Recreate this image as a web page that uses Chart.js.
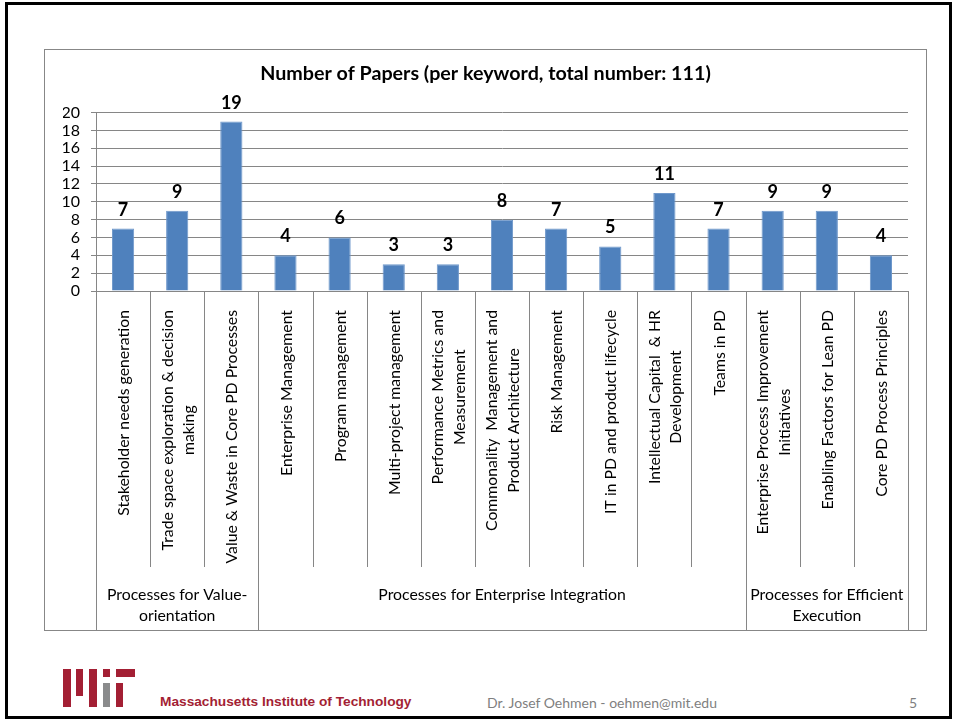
<!DOCTYPE html>
<html>
<head>
<meta charset="utf-8">
<script src="https://cdn.jsdelivr.net/npm/chart.js@4.4.1/dist/chart.umd.min.js"></script>
<style>
  html, body { margin: 0; padding: 0; background: #fff; }
  body { width: 954px; height: 721px; position: relative; overflow: hidden; font-family: Lato, sans-serif; }
  #frame { position: absolute; left: 5px; top: 2px; width: 947px; height: 717px; box-sizing: border-box; border: 3px solid #000; }
  #chartBox { position: absolute; left: 44px; top: 49px; width: 883px; height: 582px; box-sizing: border-box; border: 1px solid #878787; }
  #chartWrap { position: absolute; left: 0; top: 0; width: 881px; height: 580px; }
  .logo { position: absolute; background: #A31F34; }
  .logo.gray { background: #8A8B8C; }
  #mitName { position: absolute; left: 160px; top: 694px; font: bold 13.7px "Liberation Sans Narrow", "Arial Narrow", "Liberation Sans", sans-serif; color: #A31F34; white-space: nowrap; }
  #author { position: absolute; left: 487px; top: 694px; font: 14px Lato, sans-serif; color: #7f7f7f; white-space: nowrap; }
  #pageNo { position: absolute; left: 909px; top: 694px; font: 14px Lato, sans-serif; color: #7f7f7f; }
</style>
</head>
<body>
<div id="frame"></div>
<div id="chartBox"><div id="chartWrap"><canvas id="papersChart"></canvas></div></div>

<!-- MIT logo -->
<div class="logo" style="left:63px;top:669px;width:8px;height:38px"></div>
<div class="logo" style="left:76px;top:669px;width:7px;height:27px"></div>
<div class="logo" style="left:89px;top:669px;width:8px;height:38px"></div>
<div class="logo" style="left:103px;top:669px;width:7px;height:8px"></div>
<div class="logo gray" style="left:103px;top:683px;width:7px;height:24px"></div>
<div class="logo" style="left:116px;top:669px;width:19px;height:8px"></div>
<div class="logo" style="left:116px;top:683px;width:7px;height:24px"></div>
<div id="mitName">Massachusetts Institute of Technology</div>
<div id="author">Dr. Josef Oehmen - oehmen@mit.edu</div>
<div id="pageNo">5</div>

<script>
const chartTitle = 'Number of Papers (per keyword, total number: 111)';
const categories = [
  ['Stakeholder needs generation'],
  ['Trade space exploration & decision', 'making'],
  ['Value & Waste in Core PD Processes'],
  ['Enterprise Management'],
  ['Program management'],
  ['Multi-project management'],
  ['Performance Metrics and', 'Measurement'],
  ['Commonality  Management and', 'Product Architecture'],
  ['Risk Management'],
  ['IT in PD and product lifecycle'],
  ['Intellectual Capital  & HR', 'Development'],
  ['Teams in PD'],
  ['Enterprise Process Improvement', 'Initiatives'],
  ['Enabling Factors for Lean PD'],
  ['Core PD Process Principles']
];
const paperCounts = [7, 9, 19, 4, 6, 3, 3, 8, 7, 5, 11, 7, 9, 9, 4];
const groupLabels = [
  ['Processes for Value-', 'orientation'],
  ['Processes for Enterprise Integration'],
  ['Processes for Efficient', 'Execution']
];
const groupSizes = [3, 9, 3];
const yMin = 0, yMax = 20, yStep = 2;

const gridColor = '#868686';
const labelFont = '15.8px Lato';
const lineGap = 21.5;

// category labels, separators, group labels and value labels
const slideDecor = {
  id: 'slideDecor',
  afterDatasetsDraw(chart) {
    const { ctx, chartArea, scales: { x } } = chart;
    const n = chart.data.labels.length;
    const half = (x.getPixelForValue(1) - x.getPixelForValue(0)) / 2;
    const axisY = chartArea.bottom;
    const shortEnd = axisY + 276;
    const longEnd = chart.height;

    // group boundaries
    const bounds = [0];
    groupSizes.forEach(s => bounds.push(bounds[bounds.length - 1] + s));

    ctx.save();
    ctx.strokeStyle = gridColor;
    ctx.lineWidth = 1;
    for (let i = 0; i <= n; i++) {
      const px = Math.round(x.getPixelForValue(i) - half) + 0.5;
      const end = bounds.includes(i) ? longEnd : shortEnd;
      ctx.beginPath();
      ctx.moveTo(px, axisY);
      ctx.lineTo(px, end);
      ctx.stroke();
    }

    // rotated category labels, lines centred on the longest one
    ctx.fillStyle = '#000';
    ctx.font = labelFont;
    ctx.textAlign = 'center';
    ctx.textBaseline = 'middle';
    chart.data.labels.forEach((lines, i) => {
      const cx = x.getPixelForValue(i) + 1;
      const maxW = Math.max(...lines.map(l => ctx.measureText(l).width));
      lines.forEach((line, j) => {
        const off = (j - (lines.length - 1) / 2) * lineGap;
        ctx.save();
        ctx.translate(cx + off, axisY + 19 + maxW / 2);
        ctx.rotate(-Math.PI / 2);
        ctx.fillText(line, 0, 0);
        ctx.restore();
      });
    });

    // group labels
    groupLabels.forEach((lines, g) => {
      const left = x.getPixelForValue(bounds[g]) - half;
      const right = x.getPixelForValue(bounds[g + 1] - 1) + half;
      const cx = (left + right) / 2;
      lines.forEach((line, j) => {
        ctx.fillText(line, cx, axisY + 304 + j * 21);
      });
    });

    // value labels
    ctx.font = 'bold 18px Lato';
    ctx.textBaseline = 'alphabetic';
    chart.getDatasetMeta(0).data.forEach((bar, i) => {
      ctx.fillText(String(chart.data.datasets[0].data[i]), bar.x, bar.y - 13);
    });
    ctx.restore();
  }
};

new Chart(document.getElementById('papersChart').getContext('2d'), {
  type: 'bar',
  data: {
    labels: categories,
    datasets: [{
      data: paperCounts,
      backgroundColor: '#4F81BD',
      borderColor: '#6F98CB',
      borderWidth: 1,
      barPercentage: 0.41,
      categoryPercentage: 1
    }]
  },
  options: {
    responsive: true,
    maintainAspectRatio: false,
    animation: false,
    layout: { padding: { left: 18, right: 18, top: 0, bottom: 0 } },
    plugins: {
      legend: { display: false },
      tooltip: { enabled: false },
      title: {
        display: true,
        text: chartTitle,
        color: '#000',
        font: { family: 'Lato', size: 19.7, weight: 'bold' },
        padding: { top: 12, bottom: 27 }
      }
    },
    scales: {
      x: {
        grid: { display: false },
        border: { display: true, color: gridColor },
        ticks: { display: false },
        afterFit(scale) { scale.height = 339; }
      },
      y: {
        min: yMin,
        max: yMax,
        ticks: { stepSize: yStep, autoSkip: false, color: '#000', font: { family: 'Lato', size: 16 }, padding: 11 },
        grid: { color: gridColor, tickLength: 5 },
        border: { color: gridColor },
        afterFit(scale) { scale.width = 33; }
      }
    }
  },
  plugins: [slideDecor]
});
</script>
</body>
</html>
